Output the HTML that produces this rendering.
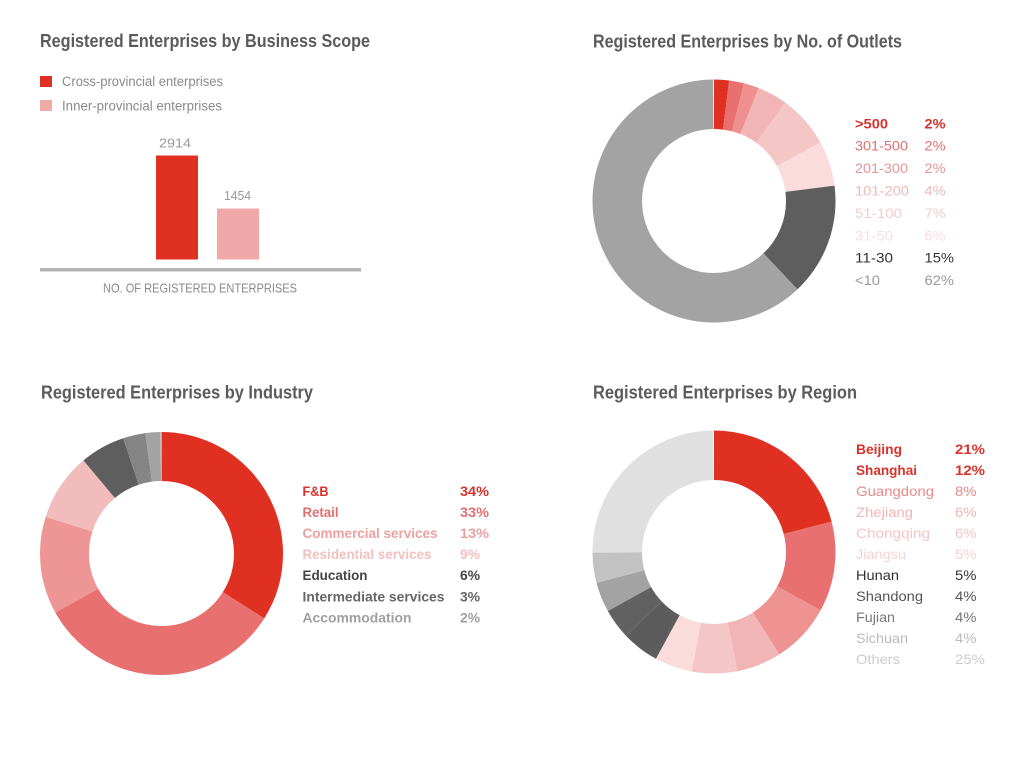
<!DOCTYPE html>
<html><head><meta charset="utf-8"><style>
html,body{margin:0;padding:0;background:#fff;}
svg{display:block;}
text{font-family:"Liberation Sans",Arial,sans-serif;}
</style></head><body>
<svg width="1024" height="766" viewBox="0 0 1024 766" xmlns="http://www.w3.org/2000/svg">
<rect width="1024" height="766" fill="#fff"/>
<!-- Titles -->
<g fill="#5b5b5b" font-size="18" font-weight="bold">
<text x="40" y="47" textLength="330" lengthAdjust="spacingAndGlyphs">Registered Enterprises by Business Scope</text>
<text x="593" y="47.5" textLength="309" lengthAdjust="spacingAndGlyphs">Registered Enterprises by No. of Outlets</text>
<text x="41" y="398.5" textLength="272" lengthAdjust="spacingAndGlyphs">Registered Enterprises by Industry</text>
<text x="593" y="398.5" textLength="264" lengthAdjust="spacingAndGlyphs">Registered Enterprises by Region</text>
</g>

<!-- Chart 1 -->
<rect x="40" y="76" width="12" height="11" fill="#e03022"/>
<rect x="40" y="100" width="12" height="11" fill="#f0a8a8"/>
<g fill="#8a8a8a" font-size="13.5">
<text x="62" y="86" textLength="161" lengthAdjust="spacingAndGlyphs">Cross-provincial enterprises</text>
<text x="62" y="110.5" textLength="160" lengthAdjust="spacingAndGlyphs">Inner-provincial enterprises</text>
</g>
<rect x="156" y="155.5" width="42" height="104" fill="#e03022"/>
<rect x="217" y="208.5" width="42" height="51" fill="#f0a8a8"/>
<g fill="#9a9a9a" font-size="12.5">
<text x="159" y="147.5" textLength="32" lengthAdjust="spacingAndGlyphs">2914</text>
<text x="224" y="200" textLength="27" lengthAdjust="spacingAndGlyphs">1454</text>
</g>
<rect x="40" y="268" width="321" height="3.5" fill="#b4b4b4"/>
<text x="103" y="292.5" fill="#8a8a8a" font-size="12.5" textLength="194" lengthAdjust="spacingAndGlyphs">NO. OF REGISTERED ENTERPRISES</text>

<!-- Chart 2 donut -->
<g transform="rotate(-90 714 201)" fill="none" stroke-width="49.5">
<circle cx="714" cy="201" r="96.75" pathLength="100" stroke="#e03022" stroke-dasharray="2 100" stroke-dashoffset="0"/>
<circle cx="714" cy="201" r="96.75" pathLength="100" stroke="#e87070" stroke-dasharray="2 100" stroke-dashoffset="-2"/>
<circle cx="714" cy="201" r="96.75" pathLength="100" stroke="#ee9090" stroke-dasharray="2 100" stroke-dashoffset="-4"/>
<circle cx="714" cy="201" r="96.75" pathLength="100" stroke="#f2b5b5" stroke-dasharray="4 100" stroke-dashoffset="-6"/>
<circle cx="714" cy="201" r="96.75" pathLength="100" stroke="#f4c6c6" stroke-dasharray="7 100" stroke-dashoffset="-10"/>
<circle cx="714" cy="201" r="96.75" pathLength="100" stroke="#fadcdc" stroke-dasharray="6 100" stroke-dashoffset="-17"/>
<circle cx="714" cy="201" r="96.75" pathLength="100" stroke="#5e5e5e" stroke-dasharray="15 100" stroke-dashoffset="-23"/>
<circle cx="714" cy="201" r="96.75" pathLength="100" stroke="#a3a3a3" stroke-dasharray="62 100" stroke-dashoffset="-38"/>
</g>
<g font-size="14">
<text x="855" y="128.3" fill="#d8322a" font-weight="bold" textLength="33" lengthAdjust="spacingAndGlyphs">&gt;500</text>
<text x="924.5" y="128.3" fill="#d8322a" font-weight="bold" textLength="21" lengthAdjust="spacingAndGlyphs">2%</text>
<text x="855" y="150.7" fill="#e07272" textLength="53" lengthAdjust="spacingAndGlyphs">301-500</text>
<text x="924.5" y="150.7" fill="#e07272" textLength="21" lengthAdjust="spacingAndGlyphs">2%</text>
<text x="855" y="173.1" fill="#e89595" textLength="53" lengthAdjust="spacingAndGlyphs">201-300</text>
<text x="924.5" y="173.1" fill="#e89595" textLength="21" lengthAdjust="spacingAndGlyphs">2%</text>
<text x="855" y="195.5" fill="#f0b9b9" textLength="54" lengthAdjust="spacingAndGlyphs">101-200</text>
<text x="924.5" y="195.5" fill="#f0b9b9" textLength="21" lengthAdjust="spacingAndGlyphs">4%</text>
<text x="855" y="217.9" fill="#f4cccc" textLength="47" lengthAdjust="spacingAndGlyphs">51-100</text>
<text x="924.5" y="217.9" fill="#f4cccc" textLength="21" lengthAdjust="spacingAndGlyphs">7%</text>
<text x="855" y="240.3" fill="#f8dede" textLength="38" lengthAdjust="spacingAndGlyphs">31-50</text>
<text x="924.5" y="240.3" fill="#f8dede" textLength="21" lengthAdjust="spacingAndGlyphs">6%</text>
<text x="855" y="262.7" fill="#333333" textLength="38" lengthAdjust="spacingAndGlyphs">11-30</text>
<text x="924.5" y="262.7" fill="#333333" textLength="29.5" lengthAdjust="spacingAndGlyphs">15%</text>
<text x="855" y="285.1" fill="#9a9a9a" textLength="25" lengthAdjust="spacingAndGlyphs">&lt;10</text>
<text x="924.5" y="285.1" fill="#9a9a9a" textLength="29.5" lengthAdjust="spacingAndGlyphs">62%</text>
</g>

<!-- Chart 3 donut -->
<g transform="rotate(-90 161.5 553.5)" fill="none" stroke-width="49">
<circle cx="161.5" cy="553.5" r="97" pathLength="100" stroke="#e03022" stroke-dasharray="34 100" stroke-dashoffset="0"/>
<circle cx="161.5" cy="553.5" r="97" pathLength="100" stroke="#e87070" stroke-dasharray="33 100" stroke-dashoffset="-34"/>
<circle cx="161.5" cy="553.5" r="97" pathLength="100" stroke="#ee9696" stroke-dasharray="13 100" stroke-dashoffset="-67"/>
<circle cx="161.5" cy="553.5" r="97" pathLength="100" stroke="#f3bcbc" stroke-dasharray="9 100" stroke-dashoffset="-80"/>
<circle cx="161.5" cy="553.5" r="97" pathLength="100" stroke="#5e5e5e" stroke-dasharray="6 100" stroke-dashoffset="-89"/>
<circle cx="161.5" cy="553.5" r="97" pathLength="100" stroke="#858585" stroke-dasharray="3 100" stroke-dashoffset="-95"/>
<circle cx="161.5" cy="553.5" r="97" pathLength="100" stroke="#a3a3a3" stroke-dasharray="2 100" stroke-dashoffset="-98"/>
</g>
<g font-size="14" font-weight="bold">
<text x="302.5" y="496" fill="#d8322a" textLength="26" lengthAdjust="spacingAndGlyphs">F&amp;B</text>
<text x="460" y="496" fill="#d8322a" textLength="29" lengthAdjust="spacingAndGlyphs">34%</text>
<text x="302.5" y="517" fill="#e06e6e" textLength="36" lengthAdjust="spacingAndGlyphs">Retail</text>
<text x="460" y="517" fill="#e06e6e" textLength="29" lengthAdjust="spacingAndGlyphs">33%</text>
<text x="302.5" y="538.1" fill="#eca0a0" textLength="135" lengthAdjust="spacingAndGlyphs">Commercial services</text>
<text x="460" y="538.1" fill="#eca0a0" textLength="29" lengthAdjust="spacingAndGlyphs">13%</text>
<text x="302.5" y="559.2" fill="#f3c0c0" textLength="129" lengthAdjust="spacingAndGlyphs">Residential services</text>
<text x="460" y="559.2" fill="#f3c0c0" textLength="20" lengthAdjust="spacingAndGlyphs">9%</text>
<text x="302.5" y="580.2" fill="#444444" textLength="65" lengthAdjust="spacingAndGlyphs">Education</text>
<text x="460" y="580.2" fill="#444444" textLength="20" lengthAdjust="spacingAndGlyphs">6%</text>
<text x="302.5" y="601.3" fill="#666666" textLength="142" lengthAdjust="spacingAndGlyphs">Intermediate services</text>
<text x="460" y="601.3" fill="#666666" textLength="20" lengthAdjust="spacingAndGlyphs">3%</text>
<text x="302.5" y="622.3" fill="#a0a0a0" textLength="109" lengthAdjust="spacingAndGlyphs">Accommodation</text>
<text x="460" y="622.3" fill="#a0a0a0" textLength="20" lengthAdjust="spacingAndGlyphs">2%</text>
</g>

<!-- Chart 4 donut -->
<g transform="rotate(-90 714 552)" fill="none" stroke-width="49.5">
<circle cx="714" cy="552" r="96.75" pathLength="100" stroke="#e03022" stroke-dasharray="21 100" stroke-dashoffset="0"/>
<circle cx="714" cy="552" r="96.75" pathLength="100" stroke="#e87070" stroke-dasharray="12 100" stroke-dashoffset="-21"/>
<circle cx="714" cy="552" r="96.75" pathLength="100" stroke="#ee9292" stroke-dasharray="8 100" stroke-dashoffset="-33"/>
<circle cx="714" cy="552" r="96.75" pathLength="100" stroke="#f2b5b5" stroke-dasharray="6 100" stroke-dashoffset="-41"/>
<circle cx="714" cy="552" r="96.75" pathLength="100" stroke="#f4c6c6" stroke-dasharray="6 100" stroke-dashoffset="-47"/>
<circle cx="714" cy="552" r="96.75" pathLength="100" stroke="#fadcdc" stroke-dasharray="5 100" stroke-dashoffset="-53"/>
<circle cx="714" cy="552" r="96.75" pathLength="100" stroke="#5c5c5c" stroke-dasharray="5 100" stroke-dashoffset="-58"/>
<circle cx="714" cy="552" r="96.75" pathLength="100" stroke="#616161" stroke-dasharray="4 100" stroke-dashoffset="-63"/>
<circle cx="714" cy="552" r="96.75" pathLength="100" stroke="#a3a3a3" stroke-dasharray="4 100" stroke-dashoffset="-67"/>
<circle cx="714" cy="552" r="96.75" pathLength="100" stroke="#c2c2c2" stroke-dasharray="4 100" stroke-dashoffset="-71"/>
<circle cx="714" cy="552" r="96.75" pathLength="100" stroke="#e0e0e0" stroke-dasharray="25 100" stroke-dashoffset="-75"/>
</g>
<g font-size="14">
<text x="856" y="454" fill="#d8322a" font-weight="bold" textLength="46" lengthAdjust="spacingAndGlyphs">Beijing</text>
<text x="955" y="454" fill="#d8322a" font-weight="bold" textLength="30" lengthAdjust="spacingAndGlyphs">21%</text>
<text x="856" y="475" fill="#d8322a" font-weight="bold" textLength="61" lengthAdjust="spacingAndGlyphs">Shanghai</text>
<text x="955" y="475" fill="#d8322a" font-weight="bold" textLength="30" lengthAdjust="spacingAndGlyphs">12%</text>
<text x="856" y="496" fill="#e88a8a" textLength="78" lengthAdjust="spacingAndGlyphs">Guangdong</text>
<text x="955" y="496" fill="#e88a8a" textLength="21.5" lengthAdjust="spacingAndGlyphs">8%</text>
<text x="856" y="517" fill="#f0b5b5" textLength="57" lengthAdjust="spacingAndGlyphs">Zhejiang</text>
<text x="955" y="517" fill="#f0b5b5" textLength="21.5" lengthAdjust="spacingAndGlyphs">6%</text>
<text x="856" y="538" fill="#f3c5c5" textLength="74" lengthAdjust="spacingAndGlyphs">Chongqing</text>
<text x="955" y="538" fill="#f3c5c5" textLength="21.5" lengthAdjust="spacingAndGlyphs">6%</text>
<text x="856" y="559" fill="#f5d2d2" textLength="50" lengthAdjust="spacingAndGlyphs">Jiangsu</text>
<text x="955" y="559" fill="#f5d2d2" textLength="21.5" lengthAdjust="spacingAndGlyphs">5%</text>
<text x="856" y="580" fill="#333333" textLength="43" lengthAdjust="spacingAndGlyphs">Hunan</text>
<text x="955" y="580" fill="#333333" textLength="21.5" lengthAdjust="spacingAndGlyphs">5%</text>
<text x="856" y="601" fill="#555555" textLength="67" lengthAdjust="spacingAndGlyphs">Shandong</text>
<text x="955" y="601" fill="#555555" textLength="21.5" lengthAdjust="spacingAndGlyphs">4%</text>
<text x="856" y="622" fill="#777777" textLength="39" lengthAdjust="spacingAndGlyphs">Fujian</text>
<text x="955" y="622" fill="#777777" textLength="21.5" lengthAdjust="spacingAndGlyphs">4%</text>
<text x="856" y="643" fill="#bbbbbb" textLength="52" lengthAdjust="spacingAndGlyphs">Sichuan</text>
<text x="955" y="643" fill="#bbbbbb" textLength="21.5" lengthAdjust="spacingAndGlyphs">4%</text>
<text x="856" y="664" fill="#cccccc" textLength="44" lengthAdjust="spacingAndGlyphs">Others</text>
<text x="955" y="664" fill="#cccccc" textLength="30" lengthAdjust="spacingAndGlyphs">25%</text>
</g>
</svg>
</body></html>
